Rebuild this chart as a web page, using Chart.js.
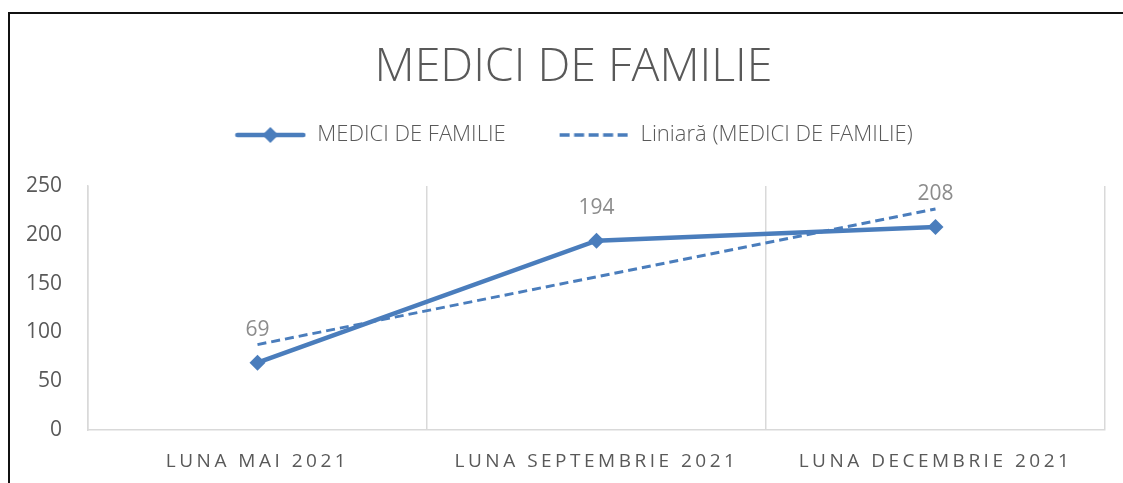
<!DOCTYPE html>
<html>
<head>
<meta charset="utf-8">
<script src="https://cdn.jsdelivr.net/npm/chart.js@4"></script>
<style>
  html, body { margin: 0; padding: 0; width: 1123px; height: 483px; overflow: hidden; background: #fff; }
  #cadru { position: absolute; left: 8px; top: 12px; width: 1130px; height: 520px; border: 2px solid #111; box-sizing: border-box; z-index: 2; pointer-events: none; }
  #zona { position: absolute; left: 10px; top: 14px; width: 1128px; height: 469px; }
</style>
</head>
<body>
<div id="cadru"></div>
<div id="zona"><canvas id="grafic"></canvas></div>
<script>
// Datele
const luni = ['LUNA MAI 2021', 'LUNA SEPTEMBRIE 2021', 'LUNA DECEMBRIE 2021'];
const medici = [69, 194, 208];
const liniara = [87.5, 157, 226.5];
const yMin = 0;
const yMax = 250;
const yPas = 50;

const albastru = '#4a7dbc';
const gri = '#595959';

// Mostre pentru legenda (linie cu romb si linie punctata)
function mostraLinie(){
    const c = document.createElement('canvas');
    c.width = 72; c.height = 22;
    const g = c.getContext('2d');
    g.strokeStyle = albastru;
    g.lineWidth = 4.5;
    g.lineCap = 'round';
    g.beginPath(); g.moveTo(3, 11); g.lineTo(69, 11); g.stroke();
    g.fillStyle = albastru;
    g.beginPath(); g.moveTo(36, 3); g.lineTo(44, 11); g.lineTo(36, 19); g.lineTo(28, 11); g.closePath(); g.fill();
    return c;
}

function mostraPunctata(){
    const c = document.createElement('canvas');
    c.width = 72; c.height = 22;
    const g = c.getContext('2d');
    g.strokeStyle = albastru;
    g.lineWidth = 3.5;
    g.setLineDash([10, 4.5]);
    g.beginPath(); g.moveTo(2, 11); g.lineTo(71, 11); g.stroke();
    return c;
}

// Etichetele valorilor deasupra punctelor + spatiere litere pe axa X
const eticheteValori = {
    id: 'eticheteValori',
    afterDatasetsDraw(chart){
        const ctx = chart.ctx;
        const meta = chart.getDatasetMeta(0);
        ctx.save();
        ctx.font = '21px "Open Sans", sans-serif';
        ctx.fillStyle = '#8c8c8c';
        ctx.textAlign = 'center';
        ctx.textBaseline = 'middle';
        meta.data.forEach((p, i) => {
            ctx.fillText(String(medici[i]), p.x, p.y - 33);
        });
        ctx.restore();
        ctx.letterSpacing = '3.5px';
    },
    afterDraw(chart){
        chart.ctx.letterSpacing = '0px';
    }
};

// Inaltimea legendei si mutarea titlului/legendei putin la dreapta
const inaltimeLegenda = {
    id: 'inaltimeLegenda',
    beforeInit(chart){
        const fit = chart.legend.fit;
        chart.legend.fit = function(){
            fit.bind(chart.legend)();
            this.height = 114;
        };
    },
    afterLayout(chart){
        [chart.titleBlock, chart.legend].forEach(b => {
            if (b) { b.left += 16; b.right += 16; }
        });
    }
};

const ctx = document.getElementById('grafic');

new Chart(ctx, {
    type: 'line',
    data: {
        labels: luni,
        datasets: [{
            label: 'MEDICI DE FAMILIE',
            data: medici,
            borderColor: albastru,
            backgroundColor: albastru,
            borderWidth: 4.5,
            pointStyle: 'rectRot',
            pointRadius: 8,
            pointHoverRadius: 8,
            pointBorderWidth: 0,
            tension: 0
        },
        {
            label: 'Liniară (MEDICI DE FAMILIE)',
            data: liniara,
            borderColor: albastru,
            borderWidth: 3,
            borderDash: [9, 5],
            pointRadius: 0,
            tension: 0
        }]
    },
    options: {
        responsive: true,
        maintainAspectRatio: false,
        animation: false,
        layout: {
            padding: { left: 0, right: 33, top: 0, bottom: 0 }
        },
        plugins: {
            title: {
                display: true,
                text: 'MEDICI DE FAMILIE',
                color: gri,
                font: { family: '"Open Sans", sans-serif', size: 46.5, weight: 300, lineHeight: 1.2 },
                padding: { top: 26.1, bottom: -23.9 }
            },
            legend: {
                display: true,
                position: 'top',
                labels: {
                    color: gri,
                    font: { family: '"Open Sans", sans-serif', size: 22, weight: 300 },
                    usePointStyle: true,
                    pointStyleWidth: 72,
                    padding: 52,
                    generateLabels(chart){
                        return [
                            { text: chart.data.datasets[0].label, pointStyle: mostraLinie(), fontColor: gri, lineWidth: 0, datasetIndex: 0 },
                            { text: chart.data.datasets[1].label, pointStyle: mostraPunctata(), fontColor: gri, lineWidth: 0, datasetIndex: 1 }
                        ];
                    }
                }
            },
            tooltip: { enabled: false }
        },
        scales: {
            x: {
                offset: true,
                grid: { display: true, offset: true, color: '#d9d9d9', lineWidth: 1.5, drawTicks: false },
                border: { display: true, color: '#d9d9d9', width: 1.5 },
                ticks: {
                    color: gri,
                    font: { family: '"Open Sans", sans-serif', size: 19 },
                    padding: 20,
                    maxRotation: 0,
                    z: 1
                },
                afterFit(scale){ scale.height = 53; }
            },
            y: {
                min: yMin,
                max: yMax,
                grid: { display: false, drawTicks: false },
                border: { display: true, color: '#d9d9d9', width: 1.5 },
                ticks: {
                    stepSize: yPas,
                    color: gri,
                    font: { family: '"Open Sans", sans-serif', size: 21 },
                    padding: 26
                },
                afterFit(scale){ scale.width = 78; }
            }
        }
    },
    plugins: [eticheteValori, inaltimeLegenda]
});
</script>
</body>
</html>
